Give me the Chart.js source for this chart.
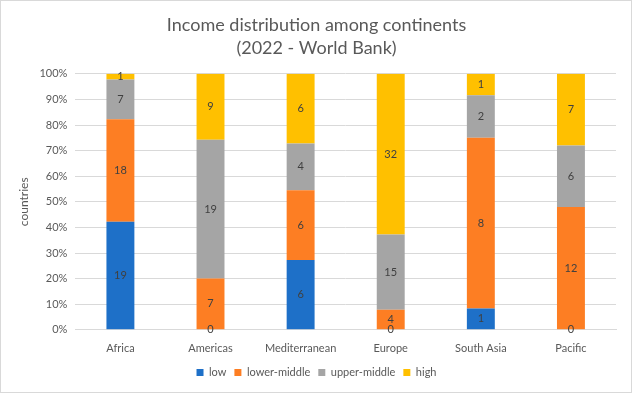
<!DOCTYPE html>
<html>
<head>
<meta charset="utf-8">
<script src="https://cdn.jsdelivr.net/npm/chart.js@4"></script>
<style>
    body { margin: 0; background: #fff; }
    #box { width: 630px; height: 391px; border: 1px solid #d9d9d9; }
</style>
</head>
<body>
<div id="box"><canvas id="graficoRenda" width="630" height="391"></canvas></div>
<script>
// number of countries per income group
const continentes = ['Africa', 'Americas', 'Mediterranean', 'Europe', 'South Asia', 'Pacific'];
const low = [19, 0, 6, 0, 1, 0];
const lowerMiddle = [18, 7, 6, 4, 8, 12];
const upperMiddle = [7, 19, 4, 15, 2, 6];
const high = [1, 9, 6, 32, 1, 7];
const yTicks = [0, 10, 20, 30, 40, 50, 60, 70, 80, 90, 100];

const fonte = 'Lato, "Open Sans", sans-serif';

// totals per continent, used to turn counts into percent
let totais = [];
for (i = 0; i < continentes.length; i++) {
    totais.push(low[i] + lowerMiddle[i] + upperMiddle[i] + high[i]);
}

function percent(serie) {
    return serie.map((v, i) => v / totais[i] * 100);
}

function criarSerie(nome, contagem, cor) {
    return {
        label: nome,
        data: percent(contagem),
        contagem: contagem,
        backgroundColor: cor,
        borderWidth: 0,
        barPercentage: 0.31,
        categoryPercentage: 1
    };
}

// draws the count in the middle of every segment
const rotulos = {
    id: 'rotulos',
    afterDatasetsDraw(chart) {
        const ctx = chart.ctx;
        ctx.save();
        ctx.font = '11px ' + fonte;
        ctx.fillStyle = '#404040';
        ctx.textAlign = 'center';
        ctx.textBaseline = 'middle';
        chart.data.datasets.forEach((ds, d) => {
            const meta = chart.getDatasetMeta(d);
            meta.data.forEach((bar, i) => {
                const y = (bar.y + bar.base) / 2;
                ctx.fillText(String(ds.contagem[i]), bar.x, y);
            });
        });
        ctx.restore();
    }
};

const config = {
    type: 'bar',
    data: {
        labels: continentes,
        datasets: [
            criarSerie('low', low, '#1e70c8'),
            criarSerie('lower-middle', lowerMiddle, '#fd7e23'),
            criarSerie('upper-middle', upperMiddle, '#a5a5a5'),
            criarSerie('high', high, '#ffc000')
        ]
    },
    options: {
        responsive: false,
        animation: false,
        layout: { padding: { left: 16, right: 15, top: 6, bottom: 4 } },
        plugins: {
            title: {
                display: true,
                text: ['Income distribution among continents', '(2022 - World Bank)'],
                color: '#595959',
                font: { family: fonte, size: 18, weight: 'normal', lineHeight: 1.3 },
                padding: { top: 6, bottom: 14 }
            },
            legend: {
                position: 'bottom',
                labels: {
                    boxWidth: 7,
                    boxHeight: 7,
                    padding: 8,
                    color: '#595959',
                    font: { family: fonte, size: 11 }
                }
            },
            tooltip: { enabled: false }
        },
        scales: {
            x: {
                stacked: true,
                grid: { display: false },
                border: { color: '#d9d9d9' },
                ticks: { color: '#595959', font: { family: fonte, size: 11 }, padding: 4 }
            },
            y: {
                stacked: true,
                min: 0,
                max: 100,
                afterBuildTicks: (axis) => { axis.ticks = yTicks.map(v => ({ value: v })); },
                grid: { color: '#d9d9d9', drawTicks: false },
                border: { display: false },
                ticks: {
                    color: '#595959',
                    font: { family: fonte, size: 11 },
                    padding: 8,
                    callback: (v) => v + '%'
                },
                title: {
                    display: true,
                    text: 'countries',
                    color: '#595959',
                    font: { family: fonte, size: 12 },
                    padding: { top: 0, bottom: 0 }
                }
            }
        }
    },
    plugins: [rotulos]
};

let graficoRenda = new Chart(document.getElementById('graficoRenda').getContext('2d'), config);
</script>
</body>
</html>
